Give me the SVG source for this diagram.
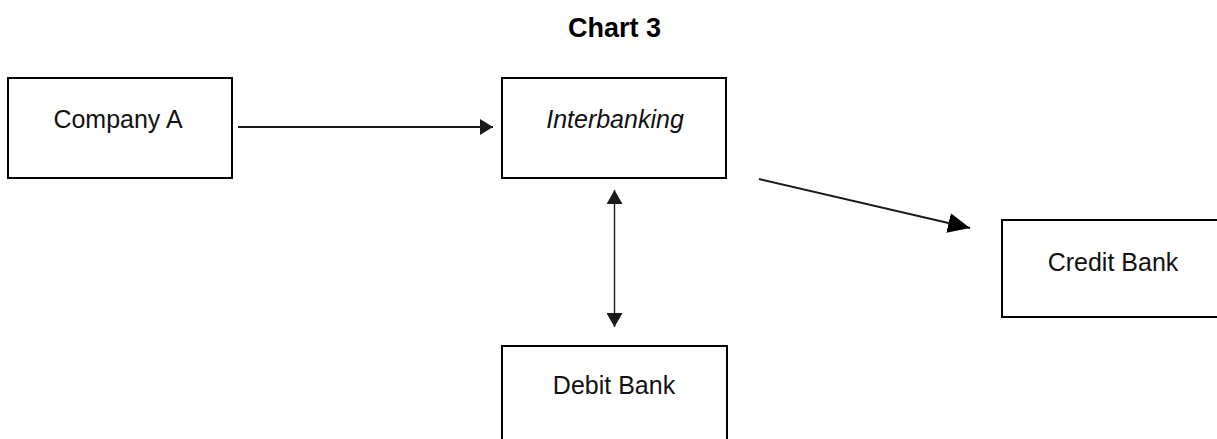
<svg xmlns="http://www.w3.org/2000/svg" width="1217" height="439" viewBox="0 0 1217 439">
  <style>
    .box { fill: #ffffff; stroke: #000000; stroke-width: 2; }
    .label { font-family: "Liberation Sans", Arial, sans-serif; font-size: 25px; fill: #111111; text-anchor: middle; }
    .title { font-family: "Liberation Sans", Arial, sans-serif; font-size: 27px; font-weight: bold; fill: #000000; text-anchor: middle; }
    .link { stroke: #1a1a1a; fill: none; }
  </style>
  <defs>
    <marker id="headSmall" viewBox="0 0 10 10" refX="10" refY="5" markerUnits="userSpaceOnUse" markerWidth="13" markerHeight="16" preserveAspectRatio="none" orient="auto">
      <path d="M0,0 L10,5 L0,10 Z" fill="#1a1a1a"/>
    </marker>
    <marker id="headMid" viewBox="0 0 10 10" refX="10" refY="5" markerUnits="userSpaceOnUse" markerWidth="14" markerHeight="16" preserveAspectRatio="none" orient="auto-start-reverse">
      <path d="M0,0 L10,5 L0,10 Z" fill="#1a1a1a"/>
    </marker>
    <marker id="headLarge" viewBox="0 0 10 10" refX="10" refY="5" markerUnits="userSpaceOnUse" markerWidth="22" markerHeight="20" preserveAspectRatio="none" orient="auto">
      <path d="M0,0 L10,5 L0,10 Z" fill="#000000"/>
    </marker>
  </defs>

  <rect width="1217" height="439" fill="#ffffff"/>

  <text class="title" x="614.5" y="37">Chart 3</text>

  <g id="company-a">
    <rect class="box" x="8" y="78" width="224" height="100"/>
    <text class="label" x="118" y="128">Company A</text>
  </g>

  <g id="interbanking">
    <rect class="box" x="502" y="78" width="224" height="100"/>
    <text class="label" x="615" y="128" font-style="italic">Interbanking</text>
  </g>

  <g id="credit-bank">
    <rect class="box" x="1002" y="220" width="230" height="97"/>
    <text class="label" x="1113" y="271">Credit Bank</text>
  </g>

  <g id="debit-bank">
    <rect class="box" x="502" y="346" width="225" height="110"/>
    <text class="label" x="614" y="394">Debit Bank</text>
  </g>

  <g id="connectors">
    <line class="link" x1="238" y1="127" x2="493" y2="127" stroke-width="2" marker-end="url(#headSmall)"/>
    <line class="link" x1="614.5" y1="190" x2="614.5" y2="327" stroke-width="1.4" marker-start="url(#headMid)" marker-end="url(#headMid)"/>
    <line class="link" x1="759" y1="179" x2="970" y2="228" stroke-width="2" marker-end="url(#headLarge)"/>
  </g>
</svg>
